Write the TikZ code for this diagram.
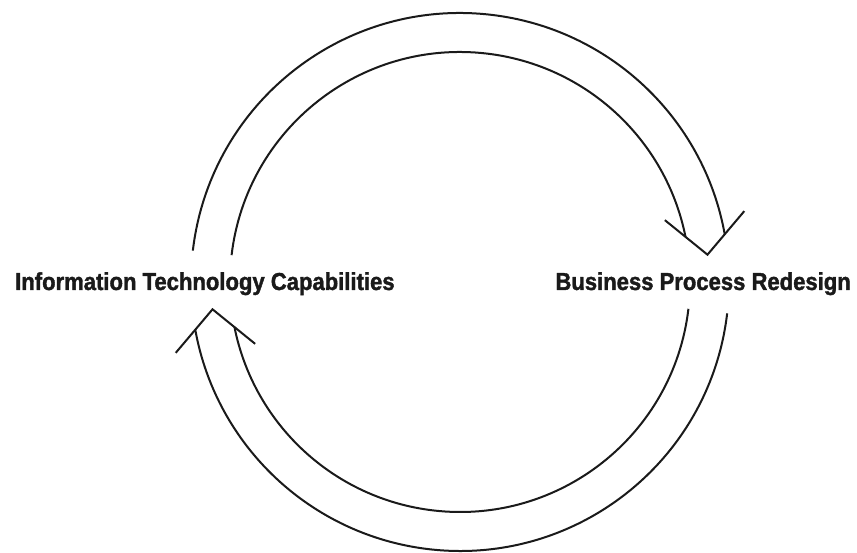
\documentclass[tikz,border=0pt]{standalone}
\usepackage{fontspec}
\usetikzlibrary{calc}
\newfontfamily\lblfont[FakeStretch=0.9, BoldFeatures={FakeBold=1.5}]{Liberation Sans}
\definecolor{loopink}{HTML}{1A1A1A}

\begin{document}
\begin{tikzpicture}[x=1pt, y=1pt,
    loopline/.style={loopink, line width=2pt, line join=miter},
    lbl/.style={font=\lblfont\bfseries\fontsize{24.5}{28}\selectfont, text=loopink, inner sep=0pt}]
  \useasboundingbox (0,0) rectangle (857,553);
  % centre of the two loop arrows
  \coordinate (ctr) at (460,271);
  % the two labels on the sides
  \node[lbl, anchor=base west] (itcap) at (15,263) {Information Technology Capabilities};
  \node[lbl, anchor=base east] (bpr) at (851,263) {Business Process Redesign};
  % upper arrow (a=0) and lower arrow (a=180), each: outer rim, inner rim, open head
  \foreach \a in {0,180} {
    \draw[loopline] ($(ctr)+(\a+173.3:269)$) arc[start angle=\a+173.3, end angle=\a+10.2, radius=269];
    \draw[loopline] ($(ctr)+(\a+173.3:230)$) arc[start angle=\a+173.3, end angle=\a+11.3, radius=230];
    \draw[loopline] ($(ctr)+(\a+16.8:214)$) -- ($(ctr)+(\a+6.3:249)$) -- ($(ctr)+(\a+14:293)$);
  }
\end{tikzpicture}
\end{document}
